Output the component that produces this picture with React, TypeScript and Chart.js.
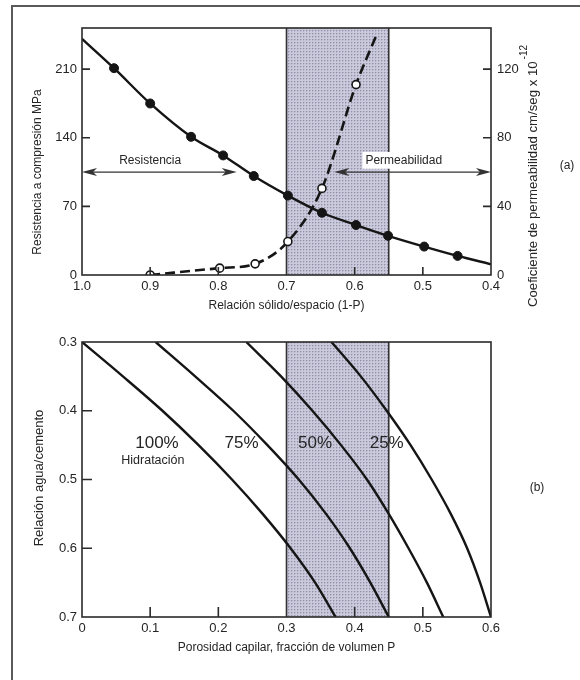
import React, { useEffect, useRef } from 'react';
import { Chart, registerables } from 'chart.js';

Chart.register(...registerables);

// ---------- Panel (a): resistencia / permeabilidad vs relación sólido/espacio ----------
const solidSpaceRatio = [1.0, 0.953, 0.9, 0.84, 0.793, 0.748, 0.698, 0.648, 0.598, 0.551, 0.498, 0.449, 0.4];
const compressiveStrength = [241, 211, 175, 141, 122, 101, 81, 63.5, 51, 40, 29, 19.5, 11];
const strengthHasMarker = [false, true, true, true, true, true, true, true, true, true, true, true, false];

const permSolidSpace = [0.9, 0.798, 0.746, 0.698, 0.648, 0.598, 0.569];
const permeability = [0, 4, 6.5, 19.5, 50.5, 111, 139];
const permHasMarker = [true, true, true, true, true, true, false];

const solidSpaceTicks = [1.0, 0.9, 0.8, 0.7, 0.6, 0.5, 0.4];
const strengthTicks = [0, 70, 140, 210];
const permTicks = [0, 40, 80, 120];
const bandSolidSpace = [0.7, 0.55];

// ---------- Panel (b): relación agua/cemento vs porosidad capilar ----------
const waterCement = [0.3, 0.35, 0.4, 0.45, 0.5, 0.55, 0.6, 0.65, 0.7];
const porosity100 = [0, 0.06, 0.118, 0.171, 0.22, 0.265, 0.306, 0.342, 0.372];
const porosity75 = [0.108, 0.166, 0.222, 0.272, 0.318, 0.358, 0.393, 0.423, 0.45];
const porosity50 = [0.241, 0.292, 0.338, 0.38, 0.418, 0.45, 0.479, 0.506, 0.53];
const porosity25 = [0.366, 0.409, 0.447, 0.482, 0.513, 0.541, 0.565, 0.584, 0.6];
const hydrationLabels = ['100%', '75%', '50%', '25%'];

const porosityTicks = [0, 0.1, 0.2, 0.3, 0.4, 0.5, 0.6];
const wcTicks = [0.3, 0.4, 0.5, 0.6, 0.7];
const bandPorosity = [0.3, 0.45];

// ---------- styling ----------
const FONT = '"Liberation Sans", Arial, Helvetica, sans-serif';
const INK = '#252525';
const LINE = '#151515';

function makePattern(ctx: CanvasRenderingContext2D) {
  const p = document.createElement('canvas');
  p.width = 3;
  p.height = 3;
  const g = p.getContext('2d')!;
  g.fillStyle = '#cacadc';
  g.fillRect(0, 0, 3, 3);
  g.fillStyle = '#b3b3c8';
  g.fillRect(1, 0, 1, 1);
  g.fillRect(0, 1, 1, 1);
  g.fillStyle = '#9090a8';
  g.fillRect(0, 0, 1, 1);
  return ctx.createPattern(p, 'repeat')!;
}

function drawBand(chart: any, range: number[]) {
  const { ctx, chartArea: a } = chart;
  const s = chart.scales.x;
  const p1 = s.getPixelForValue(range[0]);
  const p2 = s.getPixelForValue(range[1]);
  const l = Math.min(p1, p2);
  const r = Math.max(p1, p2);
  ctx.save();
  ctx.fillStyle = makePattern(ctx);
  ctx.fillRect(l, a.top, r - l, a.bottom - a.top);
  ctx.strokeStyle = '#333';
  ctx.lineWidth = 1.6;
  ctx.beginPath();
  ctx.moveTo(l, a.top);
  ctx.lineTo(l, a.bottom);
  ctx.moveTo(r, a.top);
  ctx.lineTo(r, a.bottom);
  ctx.stroke();
  ctx.restore();
}

function drawFrame(chart: any) {
  const { ctx, chartArea: a } = chart;
  ctx.save();
  ctx.strokeStyle = '#2a2a2a';
  ctx.lineWidth = 1.6;
  ctx.strokeRect(a.left, a.top, a.right - a.left, a.bottom - a.top);
  ctx.restore();
}

function drawInwardTicks(chart: any, scaleId: string, values: number[], len: number) {
  const { ctx, chartArea: a } = chart;
  const s = chart.scales[scaleId];
  ctx.save();
  ctx.strokeStyle = '#2a2a2a';
  ctx.lineWidth = 1.6;
  ctx.beginPath();
  values.forEach((v) => {
    const p = s.getPixelForValue(v);
    if (s.axis === 'x') {
      ctx.moveTo(p, a.bottom);
      ctx.lineTo(p, a.bottom - len);
    } else if (s.position === 'left') {
      ctx.moveTo(a.left, p);
      ctx.lineTo(a.left + len, p);
    } else {
      ctx.moveTo(a.right, p);
      ctx.lineTo(a.right - len, p);
    }
  });
  ctx.stroke();
  ctx.restore();
}

function arrowHead(ctx: CanvasRenderingContext2D, x: number, y: number, dir: number) {
  ctx.beginPath();
  ctx.moveTo(x, y);
  ctx.lineTo(x - dir * 15, y - 4);
  ctx.lineTo(x - dir * 11, y);
  ctx.lineTo(x - dir * 15, y + 4);
  ctx.closePath();
  ctx.fill();
}

function doubleArrow(ctx: CanvasRenderingContext2D, x1: number, x2: number, y: number) {
  ctx.save();
  ctx.strokeStyle = '#333';
  ctx.fillStyle = '#333';
  ctx.lineWidth = 1.4;
  ctx.beginPath();
  ctx.moveTo(x1 + 4, y);
  ctx.lineTo(x2 - 4, y);
  ctx.stroke();
  arrowHead(ctx, x1, y, -1);
  arrowHead(ctx, x2, y, 1);
  ctx.restore();
}

function text(
  ctx: CanvasRenderingContext2D,
  t: string,
  x: number,
  y: number,
  size: number,
  align: CanvasTextAlign = 'center',
  bg?: string
) {
  ctx.save();
  ctx.font = `${size}px ${FONT}`;
  ctx.textAlign = align;
  ctx.textBaseline = 'middle';
  if (bg) {
    const w = ctx.measureText(t).width;
    ctx.fillStyle = bg;
    ctx.fillRect(x - w / 2 - 3, y - size * 0.7, w + 6, size * 1.4);
  }
  ctx.fillStyle = INK;
  ctx.fillText(t, x, y);
  ctx.restore();
}

function vText(ctx: CanvasRenderingContext2D, t: string, x: number, y: number, size: number) {
  ctx.save();
  ctx.translate(x, y);
  ctx.rotate(-Math.PI / 2);
  ctx.fillStyle = INK;
  ctx.font = `${size}px ${FONT}`;
  ctx.textAlign = 'center';
  ctx.textBaseline = 'middle';
  ctx.fillText(t, 0, 0);
  ctx.restore();
}

const tickFont = { family: FONT, size: 13 };

function fixedTicks(values: number[]) {
  return (s: any) => {
    s.ticks = values.map((v) => ({ value: v }));
  };
}

const panelAPlugin = {
  id: 'panelA',
  beforeDatasetsDraw(chart: any) {
    drawBand(chart, bandSolidSpace);
  },
  afterDatasetsDraw(chart: any) {
    const { ctx } = chart;
    const x = chart.scales.x;
    const y = chart.scales.y;
    drawFrame(chart);
    drawInwardTicks(chart, 'y', [70, 140, 210], 8);
    drawInwardTicks(chart, 'y1', [40, 80, 120], 8);
    drawInwardTicks(chart, 'x', [0.9, 0.8, 0.6, 0.5], 8);

    const ay = y.getPixelForValue(105);
    text(ctx, 'Permeabilidad', x.getPixelForValue(0.528), y.getPixelForValue(117), 12, 'center', '#ffffff');
    doubleArrow(ctx, x.getPixelForValue(1.0), x.getPixelForValue(0.773), ay);
    doubleArrow(ctx, x.getPixelForValue(0.63), x.getPixelForValue(0.4), ay);
    text(ctx, 'Resistencia', x.getPixelForValue(0.9), y.getPixelForValue(117), 12);
    text(ctx, '(a)', 567, 166, 12);

    // axis titles
    vText(ctx, 'Resistencia a compresión MPa', 38, 172, 12);
    text(ctx, 'Relación sólido/espacio (1-P)', (chart.chartArea.left + chart.chartArea.right) / 2, 306, 12);

    // right title with superscript
    ctx.save();
    const main = 'Coeficiente de permeabilidad cm/seg x 10';
    ctx.translate(533, 307);
    ctx.rotate(-Math.PI / 2);
    ctx.fillStyle = INK;
    ctx.textBaseline = 'middle';
    ctx.textAlign = 'left';
    ctx.font = `13.2px ${FONT}`;
    const mw = ctx.measureText(main).width;
    ctx.fillText(main, 0, 0);
    ctx.font = `10px ${FONT}`;
    ctx.fillText('-12', mw + 2, -9);
    ctx.restore();
  },
};

const panelBPlugin = {
  id: 'panelB',
  beforeDatasetsDraw(chart: any) {
    drawBand(chart, bandPorosity);
  },
  afterDatasetsDraw(chart: any) {
    const { ctx } = chart;
    const x = chart.scales.x;
    const y = chart.scales.y;
    drawFrame(chart);
    drawInwardTicks(chart, 'y', [0.4, 0.5, 0.6], 10);
    drawInwardTicks(chart, 'x', [0.1, 0.2, 0.4, 0.5], 10);

    const ly = y.getPixelForValue(0.447);
    text(ctx, hydrationLabels[0], x.getPixelForValue(0.11), ly, 17);
    text(ctx, 'Hidratación', x.getPixelForValue(0.104), y.getPixelForValue(0.473), 12.5);
    text(ctx, hydrationLabels[1], x.getPixelForValue(0.234), ly, 17);
    text(ctx, hydrationLabels[2], x.getPixelForValue(0.342), ly, 17);
    text(ctx, hydrationLabels[3], x.getPixelForValue(0.447), ly, 17);
    text(ctx, '(b)', 537, 188, 12);

    vText(ctx, 'Relación agua/cemento', 39, 178, 13);
    text(ctx, 'Porosidad capilar, fracción de volumen P', (chart.chartArea.left + chart.chartArea.right) / 2, 348, 12);
  },
};

function topConfig(): any {
  return {
    type: 'line',
    data: {
      datasets: [
        {
          label: 'Resistencia',
          data: solidSpaceRatio.map((v, i) => ({ x: v, y: compressiveStrength[i] })),
          yAxisID: 'y',
          borderColor: LINE,
          borderWidth: 2.4,
          cubicInterpolationMode: 'monotone',
          pointRadius: strengthHasMarker.map((m) => (m ? 4.5 : 0)),
          pointBackgroundColor: LINE,
          pointBorderColor: LINE,
          pointBorderWidth: 1,
        },
        {
          label: 'Permeabilidad',
          data: permSolidSpace.map((v, i) => ({ x: v, y: permeability[i] })),
          yAxisID: 'y1',
          borderColor: LINE,
          borderWidth: 2.6,
          borderDash: [10, 5],
          cubicInterpolationMode: 'monotone',
          pointRadius: permHasMarker.map((m) => (m ? 4 : 0)),
          pointBackgroundColor: '#ffffff',
          pointBorderColor: LINE,
          pointBorderWidth: 1.6,
        },
      ],
    },
    options: {
      responsive: false,
      animation: false,
      layout: { padding: { top: 28, left: 0, right: 0, bottom: 0 } },
      plugins: { legend: { display: false }, tooltip: { enabled: false } },
      scales: {
        x: {
          type: 'linear',
          min: 0.4,
          max: 1.0,
          reverse: true,
          grid: { display: false, drawTicks: false },
          border: { display: false },
          afterBuildTicks: fixedTicks(solidSpaceTicks),
          ticks: { padding: 4, color: INK, font: tickFont, callback: (v: any) => Number(v).toFixed(1) },
          afterFit: (s: any) => {
            s.height = 55;
          },
        },
        y: {
          type: 'linear',
          position: 'left',
          min: 0,
          max: 252,
          grid: { display: false, drawTicks: false },
          border: { display: false },
          afterBuildTicks: fixedTicks(strengthTicks),
          ticks: { padding: 5, color: INK, font: tickFont },
          afterFit: (s: any) => {
            s.width = 82;
          },
        },
        y1: {
          type: 'linear',
          position: 'right',
          min: 0,
          max: 144,
          grid: { display: false, drawTicks: false },
          border: { display: false },
          afterBuildTicks: fixedTicks(permTicks),
          ticks: { padding: 6, color: INK, font: tickFont },
          afterFit: (s: any) => {
            s.width = 89;
          },
        },
      },
    },
    plugins: [panelAPlugin],
  };
}

function curve(label: string, values: number[]) {
  return {
    label,
    data: waterCement.map((w, i) => ({ x: values[i], y: w })),
    borderColor: LINE,
    borderWidth: 2.4,
    cubicInterpolationMode: 'monotone',
    pointRadius: 0,
  };
}

function bottomConfig(): any {
  return {
    type: 'line',
    data: {
      datasets: [
        curve('100%', porosity100),
        curve('75%', porosity75),
        curve('50%', porosity50),
        curve('25%', porosity25),
      ],
    },
    options: {
      responsive: false,
      animation: false,
      layout: { padding: { top: 42, left: 0, right: 89, bottom: 0 } },
      plugins: { legend: { display: false }, tooltip: { enabled: false } },
      scales: {
        x: {
          type: 'linear',
          min: 0,
          max: 0.6,
          grid: { display: false, drawTicks: false },
          border: { display: false },
          afterBuildTicks: fixedTicks(porosityTicks),
          ticks: {
            padding: 4,
            color: INK,
            font: tickFont,
            callback: (v: any) => (Number(v) === 0 ? '0' : Number(v).toFixed(1)),
          },
          afterFit: (s: any) => {
            s.height = 63;
          },
        },
        y: {
          type: 'linear',
          position: 'left',
          min: 0.3,
          max: 0.7,
          reverse: true,
          grid: { display: false, drawTicks: false },
          border: { display: false },
          afterBuildTicks: fixedTicks(wcTicks),
          ticks: { padding: 5, color: INK, font: tickFont, callback: (v: any) => Number(v).toFixed(1) },
          afterFit: (s: any) => {
            s.width = 82;
          },
        },
      },
    },
    plugins: [panelBPlugin],
  };
}

export default function App() {
  const topRef = useRef<HTMLCanvasElement>(null);
  const botRef = useRef<HTMLCanvasElement>(null);

  useEffect(() => {
    document.body.style.margin = '0';
    const c1 = new Chart(topRef.current!, topConfig());
    const c2 = new Chart(botRef.current!, bottomConfig());
    return () => {
      c1.destroy();
      c2.destroy();
    };
  }, []);

  return (
    <div style={{ position: 'relative', width: 580, height: 680, background: '#ffffff', overflow: 'hidden' }}>
      <div
        style={{
          position: 'absolute',
          left: 11,
          top: 5,
          width: 620,
          height: 720,
          borderLeft: '2px solid #5a5a5a',
          borderTop: '2px solid #5a5a5a',
        }}
      />
      <canvas ref={topRef} width={580} height={330} style={{ position: 'absolute', left: 0, top: 0, width: 580, height: 330 }} />
      <canvas ref={botRef} width={580} height={380} style={{ position: 'absolute', left: 0, top: 300, width: 580, height: 380 }} />
    </div>
  );
}
